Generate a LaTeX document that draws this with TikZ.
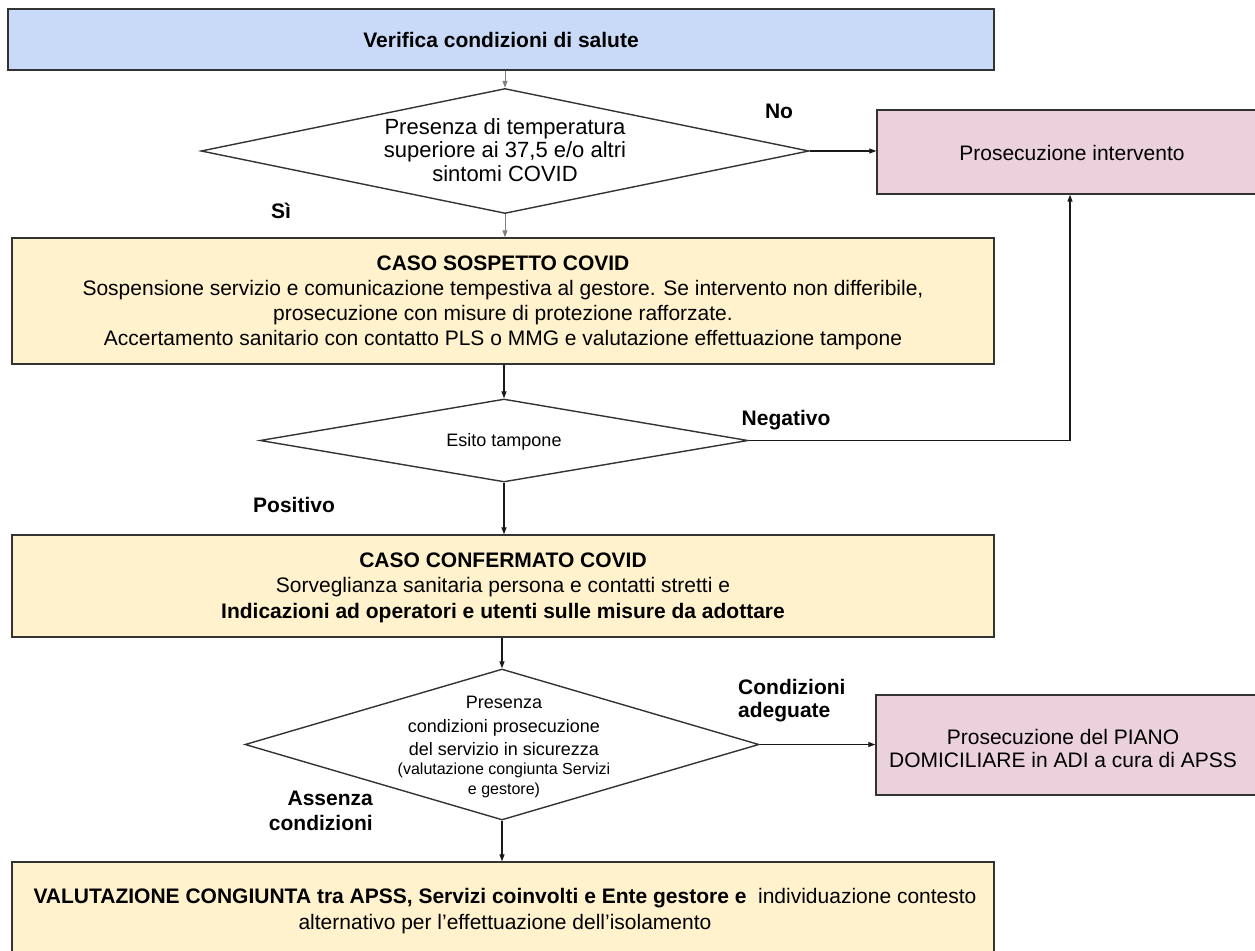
\documentclass[tikz,border=0pt]{standalone}
\usepackage{fontspec}
\setmainfont{Liberation Sans}
\usetikzlibrary{arrows.meta,shapes.geometric,calc}
\definecolor{cblue}{HTML}{C9DAF8}
\definecolor{cyel}{HTML}{FFF2CC}
\definecolor{cpink}{HTML}{EAD1DC}
\definecolor{cline}{HTML}{333333}
\begin{document}
\begin{tikzpicture}[x=1pt,y=-1pt,
  box/.style={draw=cline, line width=1.4pt, rectangle, inner sep=0pt, align=center,
    font=\fontsize{21}{25}\selectfont},
  dia/.style={draw=cline, line width=1.4pt, diamond, inner sep=0pt},
  txt/.style={align=center, inner sep=0pt, font=\fontsize{21}{25}\selectfont},
  lbl/.style={font=\bfseries\fontsize{21}{24}\selectfont, inner sep=0pt},
  arr/.style={-{Triangle[length=7pt,width=5pt]}, line width=1.2pt, draw=black!90},
  garr/.style={arr, line width=1pt, draw=black!50}
]
\clip (0,0) rectangle (1255,950);
\fill[white] (0,0) rectangle (1255,950);

% boxes
\node[box, fill=cblue, minimum width=986pt, minimum height=61pt] (top) at (501,39.5)
  {\textbf{Verifica condizioni di salute}};
\node[box, fill=cpink, minimum width=385pt, minimum height=84pt] (p1) at (1069.5,152) {};
\node[txt] (p1t) at (1072,153) {Prosecuzione intervento};
\node[box, fill=cyel, minimum width=982pt, minimum height=126pt] (y1) at (503,301) {};
\node[txt] (y1t) at (503,303)
  {\textbf{CASO SOSPETTO COVID}\\
   Sospensione servizio e comunicazione tempestiva al gestore. Se intervento non differibile,\\
   prosecuzione con misure di protezione rafforzate.\\
   Accertamento sanitario con contatto PLS o MMG e valutazione effettuazione tampone};
\node[box, fill=cyel, minimum width=982pt, minimum height=102pt] (y2) at (503,586) {};
\node[txt, font=\fontsize{21}{25.5}\selectfont] (y2t) at (503,587.5)
  {\textbf{CASO CONFERMATO COVID}\\
   Sorveglianza sanitaria persona e contatti stretti e\\
   \textbf{Indicazioni ad operatori e utenti sulle misure da adottare}};
\node[box, fill=cpink, minimum width=386pt, minimum height=100pt] (p2) at (1069,745) {};
\node[txt, font=\fontsize{21}{23}\selectfont] (p2t) at (1063,748)
  {Prosecuzione del PIANO\\DOMICILIARE in ADI a cura di APSS};
\node[box, fill=cyel, minimum width=982pt, minimum height=130pt] (y3) at (503,927) {};
\node[txt, font=\fontsize{21}{26}\selectfont] (y3t) at (505,911)
  {\textbf{VALUTAZIONE CONGIUNTA tra APSS, Servizi coinvolti e Ente gestore e}\ \ individuazione contesto\\
   alternativo per l’effettuazione dell’isolamento};

% diamonds
\node[dia, minimum width=608pt, minimum height=125pt] (d1) at (505,151) {};
\node[txt, font=\fontsize{22}{23.5}\selectfont] (d1t) at (505,150)
  {Presenza di temperatura\\superiore ai 37,5 e/o altri\\sintomi COVID};
\node[dia, minimum width=488pt, minimum height=83pt] (d2) at (504,440.5) {};
\node[txt, font=\fontsize{18}{20}\selectfont] (d2t) at (504,442) {Esito tampone};
\node[dia, minimum width=514pt, minimum height=151pt] (d3) at (502,744.5) {};
\node[txt, font=\fontsize{18}{23.5}\selectfont] (d3t) at (504,726)
  {Presenza\\condizioni prosecuzione\\del servizio in sicurezza};
\node[txt, font=\fontsize{16}{20}\selectfont] (d3u) at (504,780)
  {(valutazione congiunta Servizi\\e gestore)};

% labels
\node[lbl] (lno) at (779,111) {No};
\node[lbl] (lsi) at (281,211) {Sì};
\node[lbl] (lneg) at (786,420) {Negativo};
\node[lbl] (lpos) at (294,505) {Positivo};
\node[lbl, align=left, anchor=west, font=\bfseries\fontsize{21}{23}\selectfont] (lcond) at (738,701) {Condizioni\\adeguate};
\node[lbl, align=right, anchor=east, font=\bfseries\fontsize{21}{24.5}\selectfont] (lass) at (373,811) {Assenza\\condizioni};

% connectors
\draw[garr] (top.south -| d1.north) -- (d1.north);
\draw[garr] (d1.south) -- (y1.north -| d1.south);
\draw[arr] (d1.east) -- (p1.west |- d1.east);
\draw[arr] (y1.south -| d2.north) -- (d2.north);
\coordinate (turn) at (1070,440.5);
\draw[arr] (d2.east) -- (turn) -- (turn |- p1.south);
\draw[arr] (d2.south) -- (y2.north -| d2.south);
\draw[arr] (y2.south -| d3.north) -- (d3.north);
\draw[arr] (d3.east) -- (p2.west |- d3.east);
\draw[arr] (d3.south) -- (y3.north -| d3.south);
\end{tikzpicture}
\end{document}
